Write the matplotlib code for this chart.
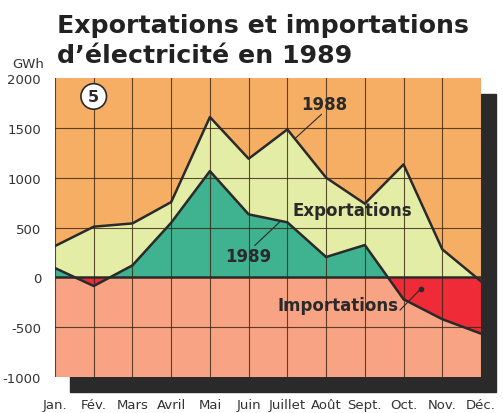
import matplotlib.pyplot as plt
import numpy as np
from matplotlib.patches import Rectangle

# Données (GWh)
mois = ['Jan.', 'Fév.', 'Mars', 'Avril', 'Mai', 'Juin', 'Juillet',
        'Août', 'Sept.', 'Oct.', 'Nov.', 'Déc.']
solde_1988 = [314, 508, 541, 755, 1608, 1190, 1484, 1000, 739, 1133, 281, -40]
solde_1989 = [93, -87, 120, 548, 1066, 632, 552, 204, 324, -220, -420, -565]

orange = '#F6AE64'
saumon = '#F7A384'
vert_clair = '#E3EDA6'
vert = '#3FB28F'
rouge = '#EE2B36'
sombre = '#2A2A2A'

x = np.arange(len(mois))
y88 = np.array(solde_1988)
y89 = np.array(solde_1989)

fig = plt.figure(figsize=(5.03, 4.14), dpi=100)
ax = fig.add_axes([55 / 503, 36 / 414, 426 / 503, 299 / 414])

# ombre portée derrière le graphique
ombre = Rectangle((70 / 503, 21 / 414), 426 / 503, 298 / 414,
                  transform=fig.transFigure, color=sombre, zorder=-5)
fig.add_artist(ombre)

ax.axhspan(0, 2000, color=orange, zorder=0)
ax.axhspan(-1000, 0, color=saumon, zorder=0)

ax.fill_between(x, y88, 0, where=y88 > 0, interpolate=True, color=vert_clair, lw=0, zorder=1)
ax.fill_between(x, y89, 0, where=y89 > 0, interpolate=True, color=vert, lw=0, zorder=2)
ax.fill_between(x, y89, 0, where=y89 < 0, interpolate=True, color=rouge, lw=0, zorder=2)

# grille
for xi in x:
    ax.axvline(xi, color='#3a2410', lw=0.8, alpha=0.8, zorder=3)
for yi in [-500, 500, 1000, 1500]:
    ax.axhline(yi, color='#3a2410', lw=0.8, alpha=0.8, zorder=3)

ax.axhline(0, color=sombre, lw=1.8, zorder=4)
ax.plot(x, y88, color=sombre, lw=1.8, zorder=5)
ax.plot(x, y89, color=sombre, lw=1.8, zorder=5)

ax.set_xlim(0, 11)
ax.set_ylim(-1000, 2000)
for s in ax.spines.values():
    s.set_visible(False)

ax.set_yticks([-1000, -500, 0, 500, 1000, 1500, 2000])
ax.set_yticklabels(['-1000', '-500', '0', '500', '1000', '1500', '2000'],
                   fontsize=9.5, color='#333333')
ax.set_xticks(x)
ax.set_xticklabels(mois, fontsize=9.5, color='#333333')
ax.tick_params(axis='y', length=0, pad=10)
ax.tick_params(axis='x', length=0, pad=15)

# annotations
style = dict(fontsize=12, fontweight='bold', color=sombre, zorder=6,
             ha='center', va='center')
ax.text(1, 1815, '5', fontsize=11.5, fontweight='bold', color=sombre, ha='center',
        va='center', zorder=7,
        bbox=dict(boxstyle='circle,pad=0.33', fc='white', ec=sombre, lw=1.2))
ax.text(6.95, 1735, '1988', **style)
ax.plot([6.88, 6.19], [1635, 1390], color=sombre, lw=0.8, zorder=6)
ax.text(7.68, 680, 'Exportations', **style)
ax.text(4.98, 215, '1989', **style)
ax.plot([5.16, 5.80], [320, 555], color=sombre, lw=0.8, zorder=6)
ax.text(7.3, -275, 'Importations', **style)
ax.plot([8.91, 9.45], [-328, -113], color=sombre, lw=0.8, zorder=6)
ax.plot([9.45], [-113], 'o', color=sombre, ms=3, zorder=6)

titre = dict(fontsize=18.2, fontweight='bold', color='#222222', ha='left', va='baseline')
fig.text(57 / 503, 1 - 33 / 414, 'Exportations et importations', **titre)
fig.text(57 / 503, 1 - 63 / 414, 'd\u2019électricité en 1989', **titre)
fig.text(12 / 503, 1 - 68 / 414, 'GWh', fontsize=9.5, color='#333333', ha='left')

fig.savefig('out.png', dpi=100)
